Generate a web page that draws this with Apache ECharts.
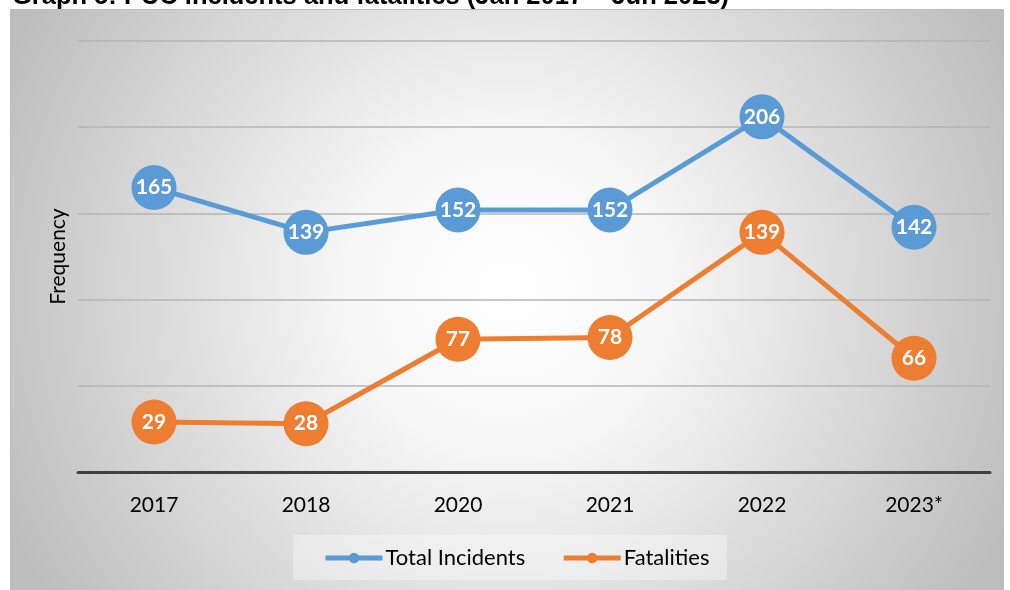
<!DOCTYPE html>
<html>
<head>
<meta charset="utf-8">
<script src="https://cdn.jsdelivr.net/npm/echarts@6/dist/echarts.min.js"></script>
<style>
  html, body { margin: 0; padding: 0; background: #ffffff; }
  #chart { width: 1010px; height: 590px; }
</style>
</head>
<body>
<div id="chart"></div>
<script>
// Yearly PUC incident counts and fatalities
const years = ['2017', '2018', '2020', '2021', '2022', '2023*'];
const totalIncidents = [165, 139, 152, 152, 206, 142];
const fatalities = [29, 28, 77, 78, 139, 66];
const yTicks = [0, 50, 100, 150, 200, 250];

const FONT = 'Lato, "Open Sans", "Liberation Sans", sans-serif';
const BLUE = '#5b9bd5';
const ORANGE = '#ed7d31';

const chart = echarts.init(document.getElementById('chart'), null, { renderer: 'canvas' });

function lineSeries(name, data, color) {
  return {
    name: name,
    type: 'line',
    data: data,
    symbol: 'circle',
    symbolSize: 45,
    showAllSymbol: true,
    lineStyle: { color: color, width: 5 },
    itemStyle: { color: color },
    label: {
      show: true,
      position: 'inside',
      color: '#ffffff',
      fontFamily: FONT,
      fontWeight: 'bold',
      fontSize: 21
    },
    emphasis: { disabled: true },
    z: 3
  };
}

chart.setOption({
  animation: false,
  backgroundColor: '#ffffff',
  graphic: [
    {
      type: 'rect',
      left: 10, top: 9, z: -10, silent: true,
      shape: { width: 993, height: 600 },
      style: {
        fill: {
          type: 'radial', x: 0.5, y: 0.47, r: 0.92,
          colorStops: [
            { offset: 0, color: '#ffffff' },
            { offset: 0.3, color: '#f6f6f6' },
            { offset: 1, color: '#bdbdbd' }
          ]
        },
        stroke: '#bcbcbc',
        lineWidth: 1
      }
    },
    {
      type: 'text',
      left: 12, top: -16, z: 10, silent: true,
      style: {
        text: 'Graph 5: PUC incidents and fatalities (Jan 2017 – Jun 2023)',
        fill: '#000000',
        font: 'bold 25.5px "Liberation Sans", Arial, sans-serif'
      }
    },
    {
      type: 'rect',
      left: 293, top: 535, z: -5, silent: true,
      shape: { width: 434, height: 45 },
      style: { fill: 'rgba(255,255,255,0.35)' }
    }
  ],
  grid: { left: 78, right: 20, top: 41, bottom: 118 },
  legend: {
    data: [
      { name: 'Total Incidents', itemStyle: { color: BLUE }, lineStyle: { color: BLUE, width: 5 } },
      { name: 'Fatalities', itemStyle: { color: ORANGE }, lineStyle: { color: ORANGE, width: 5 } }
    ],
    bottom: 21,
    left: 323,
    padding: 0,
    itemWidth: 57,
    itemHeight: 13,
    itemGap: 36,
    textStyle: { color: '#000000', fontFamily: FONT, fontSize: 22, padding: [0, 0, 0, -2] },
    selectedMode: false
  },
  xAxis: {
    type: 'category',
    data: years,
    boundaryGap: true,
    axisLine: { show: true, lineStyle: { color: '#404040', width: 3 } },
    axisTick: { show: false },
    axisLabel: { color: '#000000', fontFamily: FONT, fontSize: 21, margin: 23 }
  },
  yAxis: {
    type: 'value',
    min: yTicks[0],
    max: yTicks[yTicks.length - 1],
    interval: yTicks[1] - yTicks[0],
    name: 'Frequency',
    nameLocation: 'middle',
    nameRotate: 90,
    nameGap: 9,
    nameTextStyle: { color: '#000000', fontFamily: FONT, fontSize: 21 },
    axisLine: { show: false },
    axisTick: { show: false },
    axisLabel: { show: false },
    splitLine: { lineStyle: { color: '#b4b4b4', width: 1.5 } }
  },
  series: [
    lineSeries('Total Incidents', totalIncidents, BLUE),
    lineSeries('Fatalities', fatalities, ORANGE)
  ]
});
</script>
</body>
</html>
